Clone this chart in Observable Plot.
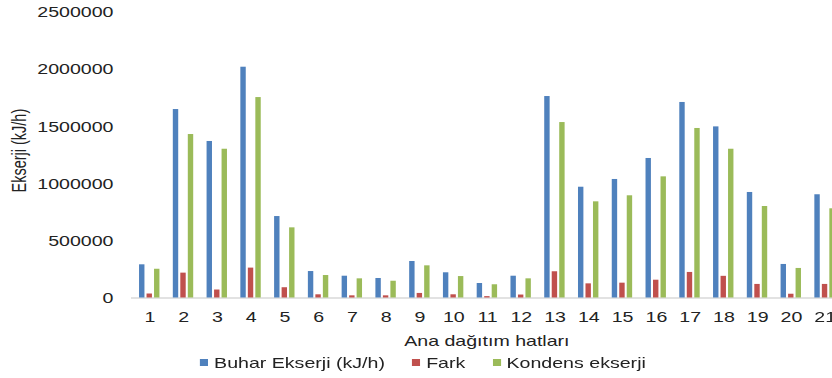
<!DOCTYPE html>
<html><head><meta charset="utf-8">
<script src="https://cdn.jsdelivr.net/npm/d3@7"></script>
<script src="https://cdn.jsdelivr.net/npm/@observablehq/plot@0.6"></script>
<style>
html,body{margin:0;padding:0;background:#fff;overflow:hidden;}
#wrap{width:616px;height:378px;transform:scaleX(1.3506);transform-origin:0 0;}
#legend{margin-left:148px;}
#legend > div{min-height:21px !important;margin:0 !important;}
#legend span{margin-right:20px !important;}
#legend svg{margin-right:4.5px !important;}
</style></head><body><div id="wrap"><div id="chart"></div><div id="legend"></div></div>
<script>
const categories = ["1","2","3","4","5","6","7","8","9","10","11","12","13","14","15","16","17","18","19","20","21"];
const buhar = [291000,1652000,1372000,2023000,714000,232000,191000,171000,320000,221000,127000,191000,1766000,971000,1039000,1223000,1714000,1500000,925000,294000,905000];
const fark = [35000,218000,70000,262000,90000,28000,19000,19000,40000,28000,12000,26000,230000,124000,130000,156000,224000,190000,119000,33000,119000];
const kondens = [252000,1433000,1304000,1757000,615000,197000,168000,147000,282000,188000,116000,168000,1538000,843000,896000,1062000,1486000,1304000,802000,259000,782000];
const seriesNames = ["Buhar Ekserji (kJ/h)", "Fark", "Kondens ekserji"];
const seriesColors = ["#4F81BD", "#C0504D", "#9BBB59"];
const yTicks = [0, 500000, 1000000, 1500000, 2000000, 2500000];
const xLabel = "Ana dağıtım hatları";
const yLabel = "Ekserji (kJ/h)";

const font = "'Liberation Sans', Arial, sans-serif";
const textColor = "#222";
const seriesValues = [buhar, fark, kondens];
const offsets = [-5.55, 0, 5.55];
const inset = 10.5;

const barMarks = seriesValues.map((vals, i) =>
  Plot.barY(categories.map((c, j) => ({cat: c, value: vals[j], series: seriesNames[i]})), {
    x: "cat", y: "value", fill: "series", dx: offsets[i], insetLeft: inset, insetRight: inset
  })
);

const chart = Plot.plot({
  width: 616,
  height: 352,
  marginTop: 12.3,
  marginBottom: 54.5,
  marginLeft: 97,
  marginRight: -7,
  style: {fontFamily: font, fontSize: "14.5px", color: textColor, background: "white", overflow: "visible"},
  x: {domain: categories, padding: 0, label: null},
  y: {domain: [0, 2500000], label: null},
  color: {domain: seriesNames, range: seriesColors},
  marks: [
    Plot.ruleY([0], {stroke: "#d9d9d9", strokeWidth: 1.5}),
    ...barMarks,
    Plot.axisX({tickSize: 0, tickPadding: 14, label: null, fill: textColor}),
    Plot.axisY({ticks: yTicks, tickSize: 0, tickPadding: 13.5, tickFormat: d => d.toFixed(0), label: null, fill: textColor}),
    Plot.text([yLabel], {text: d => d, frameAnchor: "left", textAnchor: "middle", lineAnchor: "middle", rotate: -90, dx: -82.6, dy: -4.75, fill: textColor}),
    Plot.text([xLabel], {text: d => d, frameAnchor: "bottom", textAnchor: "middle", lineAnchor: "middle", dy: 43.5, fill: textColor})
  ]
});
document.getElementById("chart").appendChild(chart);

const legend = Plot.legend({
  legend: "swatches",
  color: {domain: seriesNames, range: seriesColors},
  swatchWidth: 6,
  swatchHeight: 7,
  style: {fontFamily: font, fontSize: "14.5px", color: textColor}
});
document.getElementById("legend").appendChild(legend);
</script></body></html>
